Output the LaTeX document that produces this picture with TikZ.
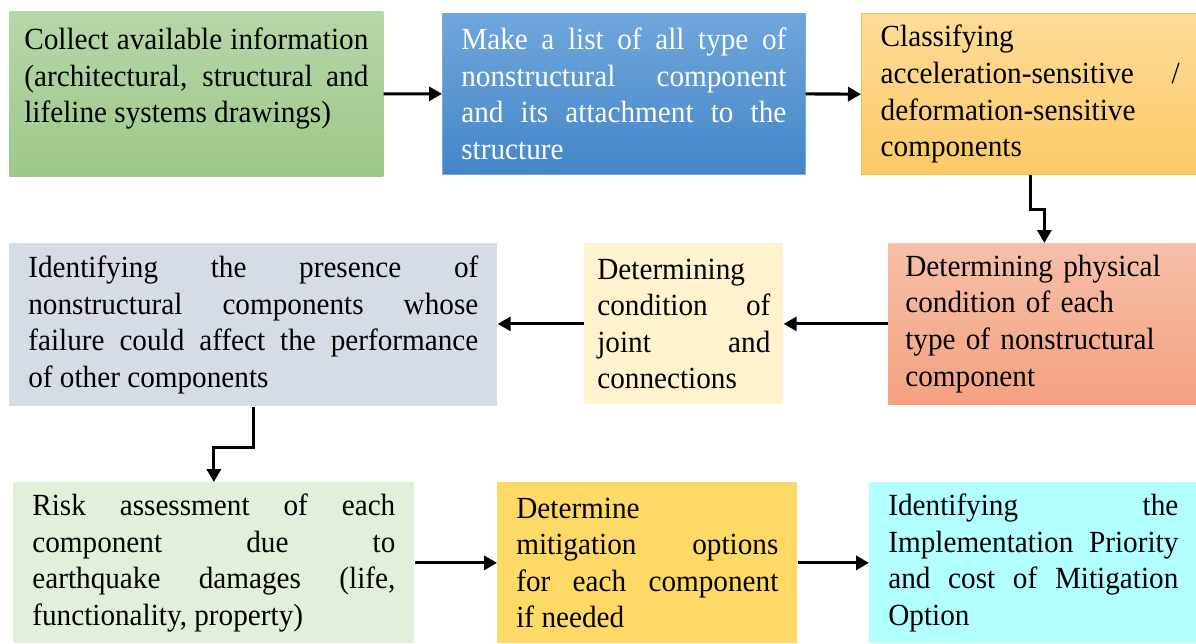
\documentclass[tikz,border=0pt]{standalone}
\usepackage{fontspec}
\setmainfont{Liberation Serif}[FakeStretch=0.95]
\usetikzlibrary{arrows.meta}
\hyphenpenalty=10000
\exhyphenpenalty=10000
\hbadness=10000
\hfuzz=5pt
\definecolor{grnTop}{RGB}{182,215,168}
\definecolor{grnBot}{RGB}{158,200,136}
\definecolor{bluTop}{RGB}{112,166,220}
\definecolor{bluBot}{RGB}{68,134,200}
\definecolor{bluEdge}{RGB}{120,170,225}
\definecolor{orgTop}{RGB}{254,219,153}
\definecolor{orgBot}{RGB}{252,202,102}
\definecolor{orgEdge}{RGB}{249,192,56}
\definecolor{salTop}{RGB}{246,192,168}
\definecolor{salBot}{RGB}{244,161,128}
\definecolor{creamFill}{RGB}{255,242,204}
\definecolor{slateFill}{RGB}{214,220,229}
\definecolor{mintFill}{RGB}{226,239,218}
\definecolor{goldFill}{RGB}{255,217,102}
\definecolor{cyanFill}{RGB}{178,255,255}
\tikzset{
  stage/.style={rectangle, anchor=north west, inner xsep=0.38cm, inner ysep=0pt,
    minimum height=3.22cm, align=justify, font=\fontsize{17.5}{20.8}\selectfont},
  flow/.style={line width=1.8pt, -{Triangle[length=0.26cm,width=0.28cm]}}
}

\begin{document}
\begin{tikzpicture}
        \useasboundingbox (0,0) rectangle (23.92,-12.86);
        \node[stage, top color=grnTop, bottom color=grnBot, inner xsep=0.3cm, text width=6.88cm, minimum height=3.30cm]
          (collect) at (0.18,-0.22) {Collect available information\linebreak (architectural, structural and\linebreak lifeline systems drawings)\\ \mbox{}};
        \node[stage, top color=bluTop, bottom color=bluBot, draw=bluEdge, text=white, text width=6.5cm]
          (listing) at (8.84,-0.26) {Make a list of all type of\linebreak nonstructural component\linebreak and its attachment to the\linebreak structure};
        \node[stage, top color=orgTop, bottom color=orgBot, draw=orgEdge, line width=0.8pt, text width=5.98cm]
          (classify) at (17.22,-0.26) {Classifying\\ acceleration-sensitive /\linebreak deformation-sensitive\\ components};
        \node[stage, top color=salTop, bottom color=salBot, inner xsep=0.34cm, text width=5.56cm, align=left]
          (physical) at (17.76,-4.86) {Determining physical\\ condition of each\\ type of nonstructural\\ component};
        \node[stage, fill=creamFill, inner xsep=0.26cm, text width=3.46cm]
          (joints) at (11.68,-4.86) {Determining\linebreak condition of\linebreak joint and\linebreak connections};
        \node[stage, fill=slateFill, text width=9.0cm, minimum height=3.26cm]
          (presence) at (0.18,-4.86) {Identifying the presence of\linebreak nonstructural components whose\linebreak failure could affect the performance\linebreak of other components};
        \node[stage, fill=mintFill, text width=7.26cm]
          (risk) at (0.26,-9.64) {Risk assessment of each\linebreak component due to\linebreak earthquake damages (life,\linebreak functionality, property)};
        \node[stage, fill=goldFill, text width=5.24cm]
          (mitigate) at (9.94,-9.64) {Determine\\ mitigation options\linebreak for each component\linebreak if needed};
        \node[stage, fill=cyanFill, text width=5.8cm]
          (priority) at (17.38,-9.64) {Identifying the\linebreak Implementation Priority\linebreak and cost of Mitigation\linebreak Option};
        \draw[flow] (collect.east) -- (listing.west);
        \draw[flow] (listing.east) -- (classify.west);
        \draw[flow] (classify.south) -- ++(0,-0.68) -| (physical.north);
        \draw[flow] (physical.west) -- (joints.east);
        \draw[flow] (joints.west) -- (presence.east |- joints.west);
        \draw[flow] (presence.south) -- ++(0,-0.82) -| (risk.north);
        \draw[flow] (risk.east) -- (mitigate.west);
        \draw[flow] (mitigate.east) -- (priority.west);
\end{tikzpicture}
\end{document}
